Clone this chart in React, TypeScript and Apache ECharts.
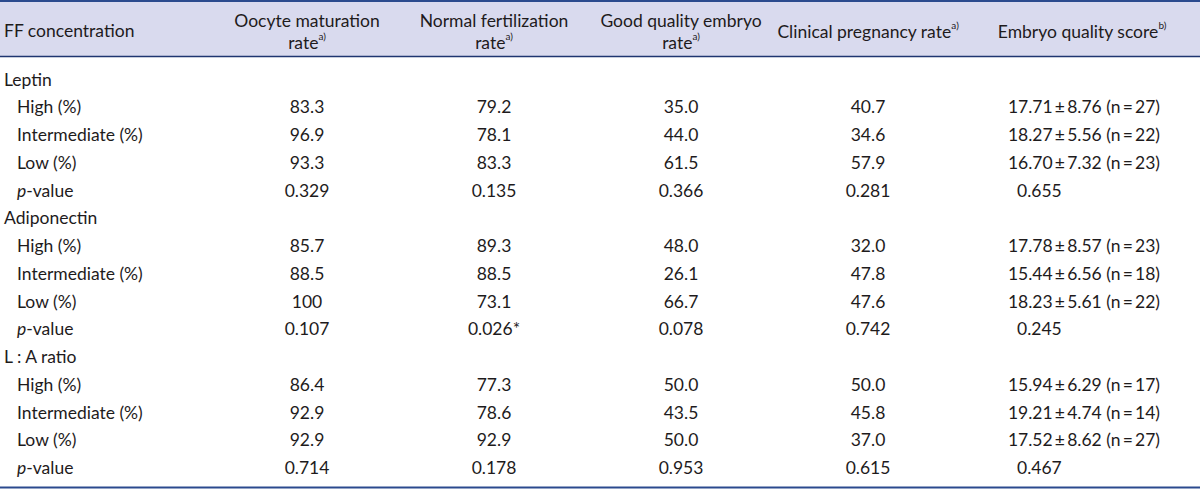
import React, { useEffect, useRef } from "react";
import * as echarts from "echarts";

// ---- Data ----
const groupLabels = ["Leptin", "Adiponectin", "L : A ratio"];
const levelLabels = ["High (%)", "Intermediate (%)", "Low (%)"];

const oocyteMaturation = ["83.3", "96.9", "93.3", "0.329", "85.7", "88.5", "100", "0.107", "86.4", "92.9", "92.9", "0.714"];
const normalFertilization = ["79.2", "78.1", "83.3", "0.135", "89.3", "88.5", "73.1", "0.026*", "77.3", "78.6", "92.9", "0.178"];
const goodQualityEmbryo = ["35.0", "44.0", "61.5", "0.366", "48.0", "26.1", "66.7", "0.078", "50.0", "43.5", "50.0", "0.953"];
const clinicalPregnancy = ["40.7", "34.6", "57.9", "0.281", "32.0", "47.8", "47.6", "0.742", "50.0", "45.8", "37.0", "0.615"];

const scoreMean = ["17.71", "18.27", "16.70", "17.78", "15.44", "18.23", "15.94", "19.21", "17.52"];
const scoreSd = ["8.76", "5.56", "7.32", "8.57", "6.56", "5.61", "6.29", "4.74", "8.62"];
const scoreN = ["27", "22", "23", "23", "18", "22", "17", "14", "27"];
const scorePValue = ["0.655", "0.245", "0.467"];

const headerLabels = [
  "Oocyte maturation\nrate{sup|a)}",
  "Normal fertilization\nrate{sup|a)}",
  "Good quality embryo\nrate{sup|a)}",
  "Clinical pregnancy rate{sup|a)}",
  "Embryo quality score{sup|b)}",
];

// ---- Styling / layout ----
const W = 1200;
const H = 489;
const FONT = "Lato, 'Noto Sans', sans-serif";
const FS = 17.5;
const TEXT = "#1e1b1c";
const NAVY = "#2b4a8e";
const HEADER_BG = "#d9daee";
const colCenters = [307, 494, 681, 868, 1082];
const firstRowY = 79;
const rowStep = 27.75;

const rich = {
  sup: { fontSize: 10, lineHeight: 12, verticalAlign: "top", fill: TEXT, fontFamily: FONT },
  it: { fontStyle: "italic", fontSize: FS, lineHeight: 22, fill: TEXT, fontFamily: FONT },
  n: { fontSize: FS, lineHeight: 22, fill: TEXT, fontFamily: FONT },
};

function txt(text: string, x: number, y: number, align: string = "center", extra: any = {}) {
  return {
    type: "text",
    x,
    y,
    silent: true,
    style: {
      text,
      fill: TEXT,
      fontSize: FS,
      fontFamily: FONT,
      lineHeight: 22,
      align,
      textAlign: align,
      verticalAlign: "middle",
      textVerticalAlign: "middle",
      rich,
      ...extra,
    },
  };
}

export default function App() {
  const ref = useRef<HTMLDivElement>(null);
  useEffect(() => {
    document.body.style.margin = "0";
    const chart = echarts.init(ref.current!, null, { renderer: "svg", width: W, height: H });
    const elements: any[] = [];

    // header band and rules
    elements.push({ type: "rect", shape: { x: 0, y: 1, width: W, height: 55 }, style: { fill: HEADER_BG }, silent: true });
    elements.push({ type: "line", shape: { x1: 0, y1: 1, x2: W, y2: 1 }, style: { stroke: NAVY, lineWidth: 2 }, silent: true });
    elements.push({ type: "line", shape: { x1: 0, y1: 56.5, x2: W, y2: 56.5 }, style: { stroke: "#1f3570", lineWidth: 1.6 }, silent: true });
    elements.push({ type: "line", shape: { x1: 0, y1: 487.5, x2: W, y2: 487.5 }, style: { stroke: NAVY, lineWidth: 2 }, silent: true });

    // header texts
    elements.push(txt("FF concentration", 4, 30, "left"));
    headerLabels.forEach((h, i) => {
      elements.push(txt(h, colCenters[i], 31, "center"));
    });

    // body
    groupLabels.forEach((g, gi) => {
      const base = gi * 5;
      const y0 = firstRowY + base * rowStep;
      elements.push(txt(g, 4, y0, "left"));
      for (let k = 0; k < 4; k++) {
        const y = firstRowY + (base + 1 + k) * rowStep;
        const idx = gi * 4 + k;
        const label = k < 3 ? levelLabels[k] : "{it|p}{n|-value}";
        elements.push(txt(label, 17, y, "left"));
        elements.push(txt(oocyteMaturation[idx], colCenters[0], y));
        elements.push(txt(normalFertilization[idx], colCenters[1], y));
        elements.push(txt(goodQualityEmbryo[idx], colCenters[2], y));
        elements.push(txt(clinicalPregnancy[idx], colCenters[3], y));
        if (k < 3) {
          const si = gi * 3 + k;
          elements.push(
            txt(`${scoreMean[si]}\u2009±\u2009${scoreSd[si]} (n\u2009=\u2009${scoreN[si]})`, colCenters[4] + 2, y)
          );
        } else {
          elements.push(txt(scorePValue[gi], 1017, y, "left"));
        }
      }
    });

    chart.setOption({ animation: false, graphic: { elements } });
    return () => chart.dispose();
  }, []);
  return <div ref={ref} style={{ width: W, height: H }} />;
}
